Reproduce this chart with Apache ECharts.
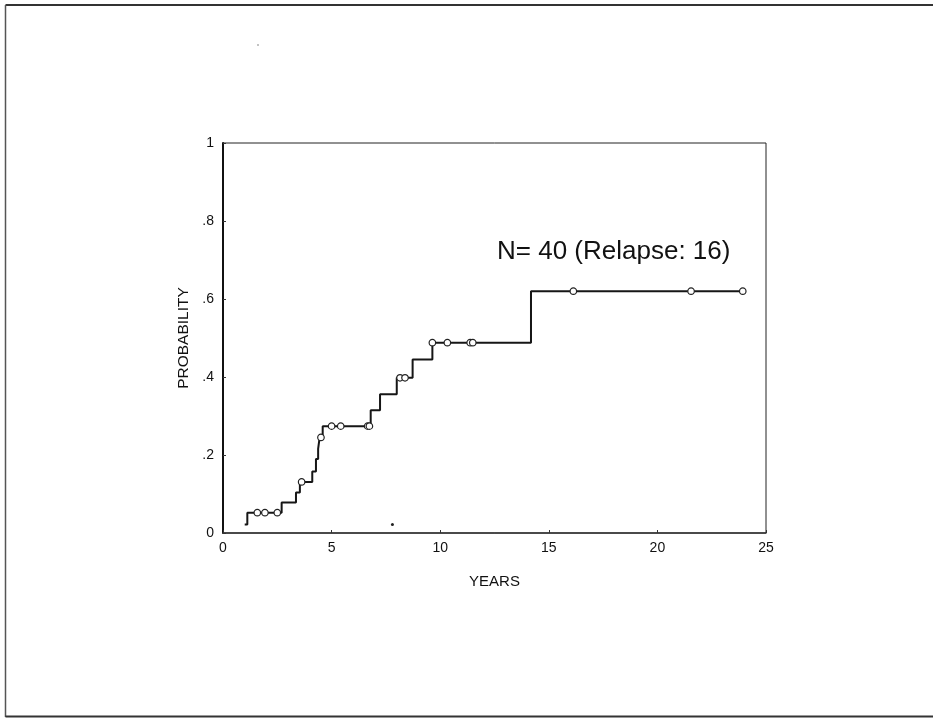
<!DOCTYPE html>
<html>
<head>
<meta charset="utf-8">
<script src="https://cdn.jsdelivr.net/npm/echarts@6/dist/echarts.min.js"></script>
<style>
html,body{margin:0;padding:0;background:#fff;}
#chart{width:933px;height:719px;}
</style>
</head>
<body>
<div id="chart"></div>
<script>
// Step curve: time (years) at which cumulative probability changes, and new value
var stepYears = [1.0, 1.12, 2.70, 3.36, 3.54, 4.11, 4.28, 4.38, 4.45, 4.59, 6.80, 7.23, 8.00, 8.73, 9.64, 14.18, 24.0];
var stepProb  = [0.022, 0.052, 0.078, 0.104, 0.131, 0.158, 0.190, 0.216, 0.245, 0.274, 0.315, 0.356, 0.398, 0.445, 0.488, 0.620, 0.620];
// Censored observations (circles)
var censorYears = [1.58, 1.93, 2.50, 3.62, 4.51, 5.00, 5.42, 6.66, 6.74, 8.15, 8.38, 9.64, 10.33, 11.38, 11.50, 16.13, 21.55, 23.93];
var censorProb  = [0.052, 0.052, 0.052, 0.131, 0.245, 0.274, 0.274, 0.274, 0.274, 0.398, 0.398, 0.488, 0.488, 0.488, 0.488, 0.620, 0.620, 0.620];
// stray dot in the plot
var dotYears = [7.8];
var dotProb = [0.022];
var xTicks = [0, 5, 10, 15, 20, 25];
var yTicks = [0, 0.2, 0.4, 0.6, 0.8, 1];
var annotation = 'N= 40 (Relapse: 16)';

var chart = echarts.init(document.getElementById('chart'), null, {renderer: 'canvas'});
var font = 'Arial, "Liberation Sans", Helvetica, sans-serif';

function pairs(a, b) { return a.map(function (v, i) { return [v, b[i]]; }); }

chart.setOption({
  backgroundColor: '#ffffff',
  animation: false,
  grid: {left: 223, top: 143, width: 543, height: 390, show: true, borderColor: '#222', borderWidth: 1, containLabel: false},
  xAxis: {
    type: 'value', min: xTicks[0], max: xTicks[xTicks.length - 1], interval: 5,
    name: 'YEARS', nameLocation: 'middle', nameGap: 41,
    nameTextStyle: {fontFamily: font, fontSize: 15, color: '#111'},
    axisLine: {show: true, onZero: false, lineStyle: {color: '#333', width: 1.5}},
    axisTick: {show: true, inside: true, length: 3, lineStyle: {color: '#333'}},
    axisLabel: {fontFamily: font, fontSize: 14, color: '#111', margin: 8},
    splitLine: {show: false}
  },
  yAxis: {
    type: 'value', min: yTicks[0], max: yTicks[yTicks.length - 1], interval: 0.2,
    name: 'PROBABILITY', nameLocation: 'middle', nameGap: 31,
    nameTextStyle: {fontFamily: font, fontSize: 15.5, color: '#111'},
    axisLine: {show: true, onZero: false, lineStyle: {color: '#111', width: 2}},
    axisTick: {show: true, inside: true, length: 3, lineStyle: {color: '#333'}},
    axisLabel: {
      fontFamily: font, fontSize: 14, color: '#111', margin: 9,
      formatter: function (v) {
        if (v === 0) return '0';
        if (v === 1) return '1';
        return String(Math.round(v * 10) / 10).replace(/^0\./, '.');
      }
    },
    splitLine: {show: false}
  },
  series: [
    {
      type: 'line', step: 'end', data: pairs(stepYears, stepProb),
      showSymbol: false, symbol: 'none',
      lineStyle: {color: '#161616', width: 2}, z: 2
    },
    {
      type: 'scatter', data: pairs(censorYears, censorProb),
      symbol: 'circle', symbolSize: 6.5,
      itemStyle: {color: '#ffffff', borderColor: '#222', borderWidth: 1.2, opacity: 1}, z: 3
    },
    {
      type: 'scatter', data: pairs(dotYears, dotProb),
      symbol: 'circle', symbolSize: 3,
      itemStyle: {color: '#222', opacity: 1}, z: 3
    }
  ],
  graphic: [
    {type: 'text', left: 497, top: 239, style: {text: annotation, font: '26px ' + font, fill: '#111'}},
    {type: 'line', shape: {x1: 5.5, y1: 5, x2: 933, y2: 5}, style: {stroke: '#333', lineWidth: 2}},
    {type: 'line', shape: {x1: 5.5, y1: 5, x2: 5.5, y2: 717}, style: {stroke: '#555', lineWidth: 1.5}},
    {type: 'line', shape: {x1: 5.5, y1: 716.5, x2: 933, y2: 716.5}, style: {stroke: '#333', lineWidth: 2}},
    {type: 'circle', shape: {cx: 258, cy: 45, r: 0.8}, style: {fill: '#777'}}
  ]
});
</script>
</body>
</html>
